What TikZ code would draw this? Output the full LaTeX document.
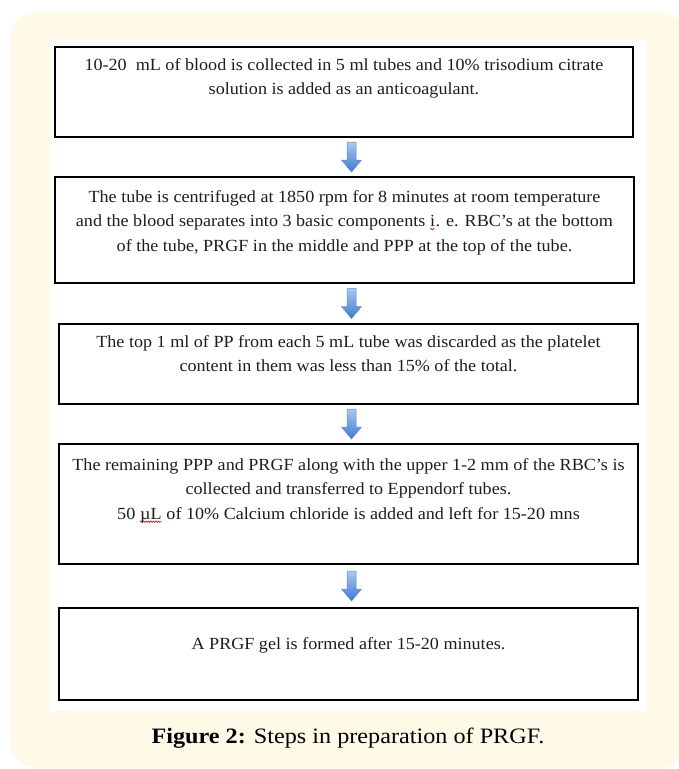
\documentclass[tikz,border=0pt]{standalone}
\usepackage{fontspec}
\setmainfont{Liberation Serif}[FakeStretch=1.1]
\newfontfamily\boxfont{Liberation Serif}[FakeStretch=1.065]
\usetikzlibrary{calc,decorations.pathmorphing}
\definecolor{cream}{HTML}{FFFAE8}
\definecolor{txt}{HTML}{1E1E1E}
\definecolor{arrtop}{HTML}{A9C8EE}
\definecolor{arrbot}{HTML}{3F7AD0}
\definecolor{arredge}{HTML}{5B8BD0}
\newcommand\flowarrow[3]{%
  \coordinate (#1m) at ($(#2.south)!0.5!(#3.north)$);
  \coordinate (#1) at (#1m -| axis);
  \shade[top color=arrtop, bottom color=arrbot, draw=arredge, line width=0.5pt]
    ($(#1)+(-4.5,-15)$) -- ($(#1)+(4.5,-15)$) -- ($(#1)+(4.5,3)$) -- ($(#1)+(10,3)$)
    -- ($(#1)+(0,15)$) -- ($(#1)+(-10,3)$) -- ($(#1)+(-4.5,3)$) -- cycle;
}
\newcommand\squig[1]{\tikz[baseline=(sq.base),x=1pt,y=1pt]{%
  \node[inner sep=0pt,outer sep=0pt,text=txt] (sq) {#1};
  \draw[red!85!black,line width=0.6pt,decorate,decoration={snake,amplitude=0.7pt,segment length=2.5pt}]
    ([yshift=-2.5pt]sq.base west) -- ([yshift=-2.5pt]sq.base east);}}
\begin{document}
\begin{tikzpicture}[x=1pt,y=-1pt,
  stepbox/.style={draw=black, line width=2pt, rectangle, inner sep=0pt, fill=white},
  steptext/.style={anchor=north, inner sep=0pt, align=center, text=txt,
    font=\boxfont\fontsize{17}{24.5}\selectfont},
  captext/.style={inner sep=0pt, text=black, font=\fontsize{22}{26}\selectfont}]
\useasboundingbox (0,0) rectangle (679,769);
\fill[cream, rounded corners=26pt] (10,12) rectangle (686,768);
\fill[white] (50,40) rectangle (647,711);
\coordinate (axis) at (351.5,0);

\node[stepbox, minimum width=578pt, minimum height=90pt] (b1) at (344,92) {};
\node[stepbox, minimum width=579pt, minimum height=106pt] (b2) at (344.5,230) {};
\node[stepbox, minimum width=579pt, minimum height=80pt] (b3) at (348.5,364) {};
\node[stepbox, minimum width=579pt, minimum height=120pt] (b4) at (348.5,504) {};
\node[stepbox, minimum width=579pt, minimum height=92pt] (b5) at (348.5,654) {};

\node[steptext] (t1) at ($(b1.north)+(0,12)$)
  {10-20\ \ mL of blood is collected in 5 ml tubes and 10\% trisodium citrate\\
   solution is added as an anticoagulant.};
\node[steptext] (t2) at ($(b2.north)+(0,14)$)
  {The tube is centrifuged at 1850 rpm for 8 minutes at room temperature\\
   and the blood separates into 3 basic components \squig{i}. e. RBC’s at the bottom\\
   of the tube, PRGF in the middle and PPP at the top of the tube.};
\node[steptext] (t3) at ($(b3.north)+(0,12)$)
  {The top 1 ml of PP from each 5 mL tube was discarded as the platelet\\
   content in them was less than 15\% of the total.};
\node[steptext] (t4) at ($(b4.north)+(0,15)$)
  {The remaining PPP and PRGF along with the upper 1-2 mm of the RBC’s is\\
   collected and transferred to Eppendorf tubes.\\
   50 \squig{µL} of 10\% Calcium chloride is added and left for 15-20 mns};
\node[steptext] (t5) at ($(b5.north)+(0,30)$)
  {A PRGF gel is formed after 15-20 minutes.};

\flowarrow{a1}{b1}{b2}
\flowarrow{a2}{b2}{b3}
\flowarrow{a3}{b3}{b4}
\flowarrow{a4}{b4}{b5}

\node[captext] (cap) at (348,738) {\textbf{Figure 2:} Steps in preparation of PRGF.};
\end{tikzpicture}
\end{document}
